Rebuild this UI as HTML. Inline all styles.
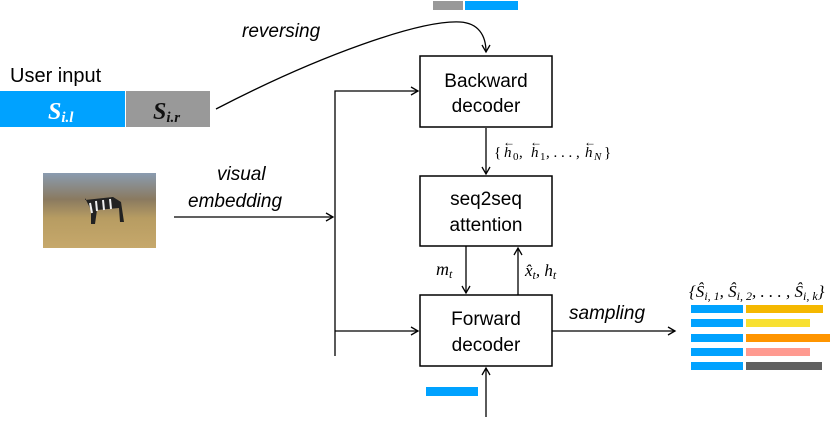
<!DOCTYPE html>
<html><head><meta charset="utf-8"><style>
body{margin:0;background:#fff;width:830px;height:417px;overflow:hidden;font-family:"Liberation Sans",sans-serif}
</style></head><body>
<svg width="830" height="417" xmlns="http://www.w3.org/2000/svg" font-family="Liberation Sans, sans-serif">
<defs>
<marker id="a" markerWidth="10" markerHeight="10" refX="8" refY="5" orient="auto" markerUnits="userSpaceOnUse">
<path d="M1,1 L8,5 L1,9" fill="none" stroke="#000" stroke-width="1.3"/></marker>
<linearGradient id="sky" x1="0" y1="0" x2="0" y2="1">
<stop offset="0" stop-color="#8a9cb0"/><stop offset="0.35" stop-color="#8a7a60"/><stop offset="0.6" stop-color="#b79c62"/><stop offset="1" stop-color="#c6a86b"/></linearGradient>
</defs>
<rect x="433" y="1" width="30" height="9" fill="#999"/>
<rect x="465" y="1" width="53" height="9" fill="#00a2ff"/>
<text x="10" y="82" font-size="20">User input</text>
<rect x="0" y="91" width="125" height="36" fill="#00a2ff"/>
<rect x="126" y="91" width="84" height="36" fill="#999"/>
<text x="48" y="119" font-family="Liberation Serif,serif" font-style="italic" font-weight="bold" font-size="24" fill="#fff">S<tspan font-size="15" dy="3">i.l</tspan></text>
<text x="153" y="119" font-family="Liberation Serif,serif" font-style="italic" font-weight="bold" font-size="24" fill="#111">S<tspan font-size="15" dy="3">i.r</tspan></text>
<text x="242" y="37" font-size="19" font-style="italic">reversing</text>
<path d="M216,109 C320,55 420,20 460,22 C478,23 486,35 486,52" fill="none" stroke="#000" stroke-width="1.3" marker-end="url(#a)"/>
<rect x="43" y="173" width="113" height="75" fill="url(#sky)"/>
<path d="M85,200 l28,-3 l8,5 l3,20 l-4,0 l-1,-14 l-22,2 l-2,14 l-4,0 l0,-14 l-6,-12 z" fill="#222"/>
<path d="M90,203 l2,10 M96,201 l1,10 M103,200 l1,10 M110,199 l1,10" stroke="#eee" stroke-width="2"/>
<text x="217" y="180" font-size="19" font-style="italic">visual</text>
<text x="188" y="207" font-size="19" font-style="italic">embedding</text>
<line x1="174" y1="217" x2="333" y2="217" stroke="#000" stroke-width="1.3" marker-end="url(#a)"/>
<path d="M335,356 L335,91 L418,91" fill="none" stroke="#000" stroke-width="1.3" marker-end="url(#a)"/>
<line x1="335" y1="331" x2="418" y2="331" stroke="#000" stroke-width="1.3" marker-end="url(#a)"/>
<rect x="420" y="56" width="132" height="71" fill="#fff" stroke="#000" stroke-width="1.5"/>
<text x="486" y="87" font-size="19" text-anchor="middle">Backward</text>
<text x="486" y="112" font-size="19" text-anchor="middle">decoder</text>
<rect x="420" y="176" width="132" height="70" fill="#fff" stroke="#000" stroke-width="1.5"/>
<text x="486" y="205" font-size="19" text-anchor="middle">seq2seq</text>
<text x="486" y="231" font-size="19" text-anchor="middle">attention</text>
<rect x="420" y="295" width="132" height="71" fill="#fff" stroke="#000" stroke-width="1.5"/>
<text x="486" y="325" font-size="19" text-anchor="middle">Forward</text>
<text x="486" y="351" font-size="19" text-anchor="middle">decoder</text>
<line x1="486" y1="128" x2="486" y2="174" stroke="#000" stroke-width="1.3" marker-end="url(#a)"/>
<g font-family="Liberation Serif,serif" font-size="15">
<text x="494" y="157">{</text>
<text x="504" y="157" font-style="italic">h</text><text x="513" y="160" font-size="11">0</text><text x="519" y="157">,</text>
<text x="531" y="157" font-style="italic">h</text><text x="540" y="160" font-size="11">1</text><text x="546" y="157">, . . . ,</text>
<text x="585" y="157" font-style="italic">h</text><text x="594" y="160" font-size="11" font-style="italic">N</text><text x="604" y="157">}</text>
<text x="503" y="146" font-size="12">←</text><text x="530" y="146" font-size="12">←</text><text x="584" y="146" font-size="12">←</text>
</g>
<line x1="466" y1="246" x2="466" y2="293" stroke="#000" stroke-width="1.3" marker-end="url(#a)"/>
<line x1="518" y1="295" x2="518" y2="248" stroke="#000" stroke-width="1.3" marker-end="url(#a)"/>
<text x="436" y="275" font-family="Liberation Serif,serif" font-size="18" font-style="italic">m<tspan font-size="12" dy="3">t</tspan></text>
<text x="525" y="276" font-family="Liberation Serif,serif" font-size="17" font-style="italic">x̂<tspan font-size="12" dy="3">t</tspan><tspan dy="-3">, h</tspan><tspan font-size="12" dy="3">t</tspan></text>
<line x1="486" y1="417" x2="486" y2="368" stroke="#000" stroke-width="1.3" marker-end="url(#a)"/>
<rect x="426" y="387" width="52" height="9" fill="#00a2ff"/>
<line x1="552" y1="331" x2="675" y2="331" stroke="#000" stroke-width="1.3" marker-end="url(#a)"/>
<text x="569" y="319" font-size="19" font-style="italic">sampling</text>
<text x="689" y="297" font-family="Liberation Serif,serif" font-size="17" font-style="italic">{Ŝ<tspan font-size="12" dy="3">i, 1</tspan><tspan dy="-3">, Ŝ</tspan><tspan font-size="12" dy="3">i, 2</tspan><tspan dy="-3">, . . . , Ŝ</tspan><tspan font-size="12" dy="3">i, k</tspan><tspan dy="-3">}</tspan></text>
<g>
<rect x="691" y="305" width="52" height="8" fill="#00a2ff"/><rect x="746" y="305" width="77" height="8" fill="#f5b800"/>
<rect x="691" y="319" width="52" height="8" fill="#00a2ff"/><rect x="746" y="319" width="64" height="8" fill="#f8e030"/>
<rect x="691" y="334" width="52" height="8" fill="#00a2ff"/><rect x="746" y="334" width="84" height="8" fill="#ff9500"/>
<rect x="691" y="348" width="52" height="8" fill="#00a2ff"/><rect x="746" y="348" width="64" height="8" fill="#ff9a90"/>
<rect x="691" y="362" width="52" height="8" fill="#00a2ff"/><rect x="746" y="362" width="76" height="8" fill="#606060"/>
</g>
</svg>
</body></html>
